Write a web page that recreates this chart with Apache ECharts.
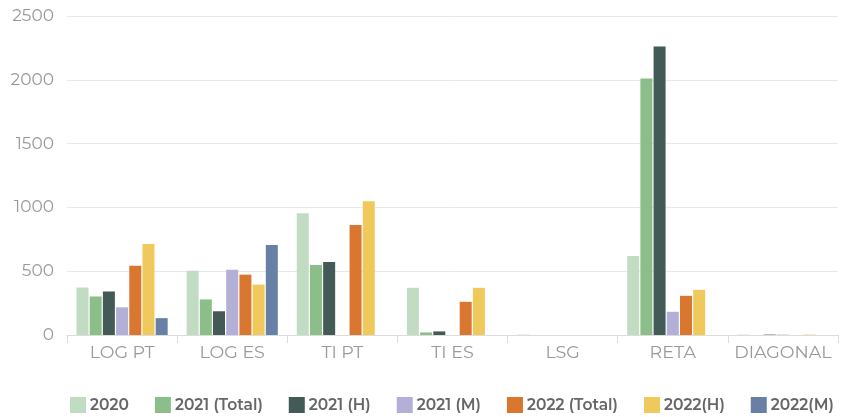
<!DOCTYPE html>
<html>
<head>
<meta charset="utf-8">
<script src="https://cdn.jsdelivr.net/npm/echarts@6/dist/echarts.min.js"></script>
<style>
html,body{margin:0;padding:0;background:#fff;}
#c{width:841px;height:417px;}
</style>
</head>
<body>
<div id="c"></div>
<script>
const categories = ['LOG PT', 'LOG ES', 'TI PT', 'TI ES', 'LSG', 'RETA', 'DIAGONAL'];
const seriesNames = ['2020', '2021 (Total)', '2021 (H)', '2021 (M)', '2022 (Total)', '2022(H)', '2022(M)'];
const s2020      = [372, 504, 955, 370, 3, 620, 3];
const s2021Total = [302, 279, 549, 20, 0, 2010, 0];
const s2021H     = [341, 186, 573, 28, 0, 2260, 3];
const s2021M     = [217, 512, 0, 0, 0, 182, 3];
const s2022Total = [543, 473, 862, 260, 0, 307, 0];
const s2022H     = [713, 395, 1049, 370, 0, 354, 3];
const s2022M     = [132, 705, 0, 0, 0, 0, 0];
const yTicks = [0, 500, 1000, 1500, 2000, 2500];
const colors = ['#c2dcc4', '#8bbe89', '#435a56', '#b2b0d7', '#d9762f', '#f0c95d', '#6880a6'];

const allData = [s2020, s2021Total, s2021H, s2021M, s2022Total, s2022H, s2022M];
const font = 'Montserrat, "Open Sans", sans-serif';

const chart = echarts.init(document.getElementById('c'), null, {renderer: 'canvas'});
chart.setOption({
  animation: false,
  color: colors,
  grid: {left: 67, right: 3, top: 16, bottom: 82, containLabel: false},
  legend: {
    left: 70, top: 397, width: 800, padding: 0,
    itemWidth: 16, itemHeight: 16, itemGap: 26,
    icon: 'rect',
    textStyle: {color: '#666', fontSize: 15.5, fontWeight: 600, fontFamily: font, padding: [0, 0, 0, -1]},
    data: seriesNames
  },
  xAxis: {
    type: 'category',
    data: categories,
    axisLine: {lineStyle: {color: '#dcdcdc'}},
    axisTick: {show: true, length: 8, lineStyle: {color: '#dcdcdc'}},
    axisLabel: {color: '#999', fontSize: 17.5, fontFamily: font, margin: 9, interval: 0}
  },
  yAxis: {
    type: 'value',
    min: yTicks[0], max: yTicks[yTicks.length - 1], interval: 500,
    axisLine: {show: false},
    axisTick: {show: false},
    splitLine: {lineStyle: {color: '#e8e8e8'}},
    axisLabel: {color: '#999', fontSize: 17, fontFamily: font, margin: 13, formatter: v => String(v)}
  },
  series: seriesNames.map((n, i) => ({
    name: n,
    type: 'bar',
    data: allData[i],
    barWidth: 12,
    barGap: '10%'
  }))
});
</script>
</body>
</html>
